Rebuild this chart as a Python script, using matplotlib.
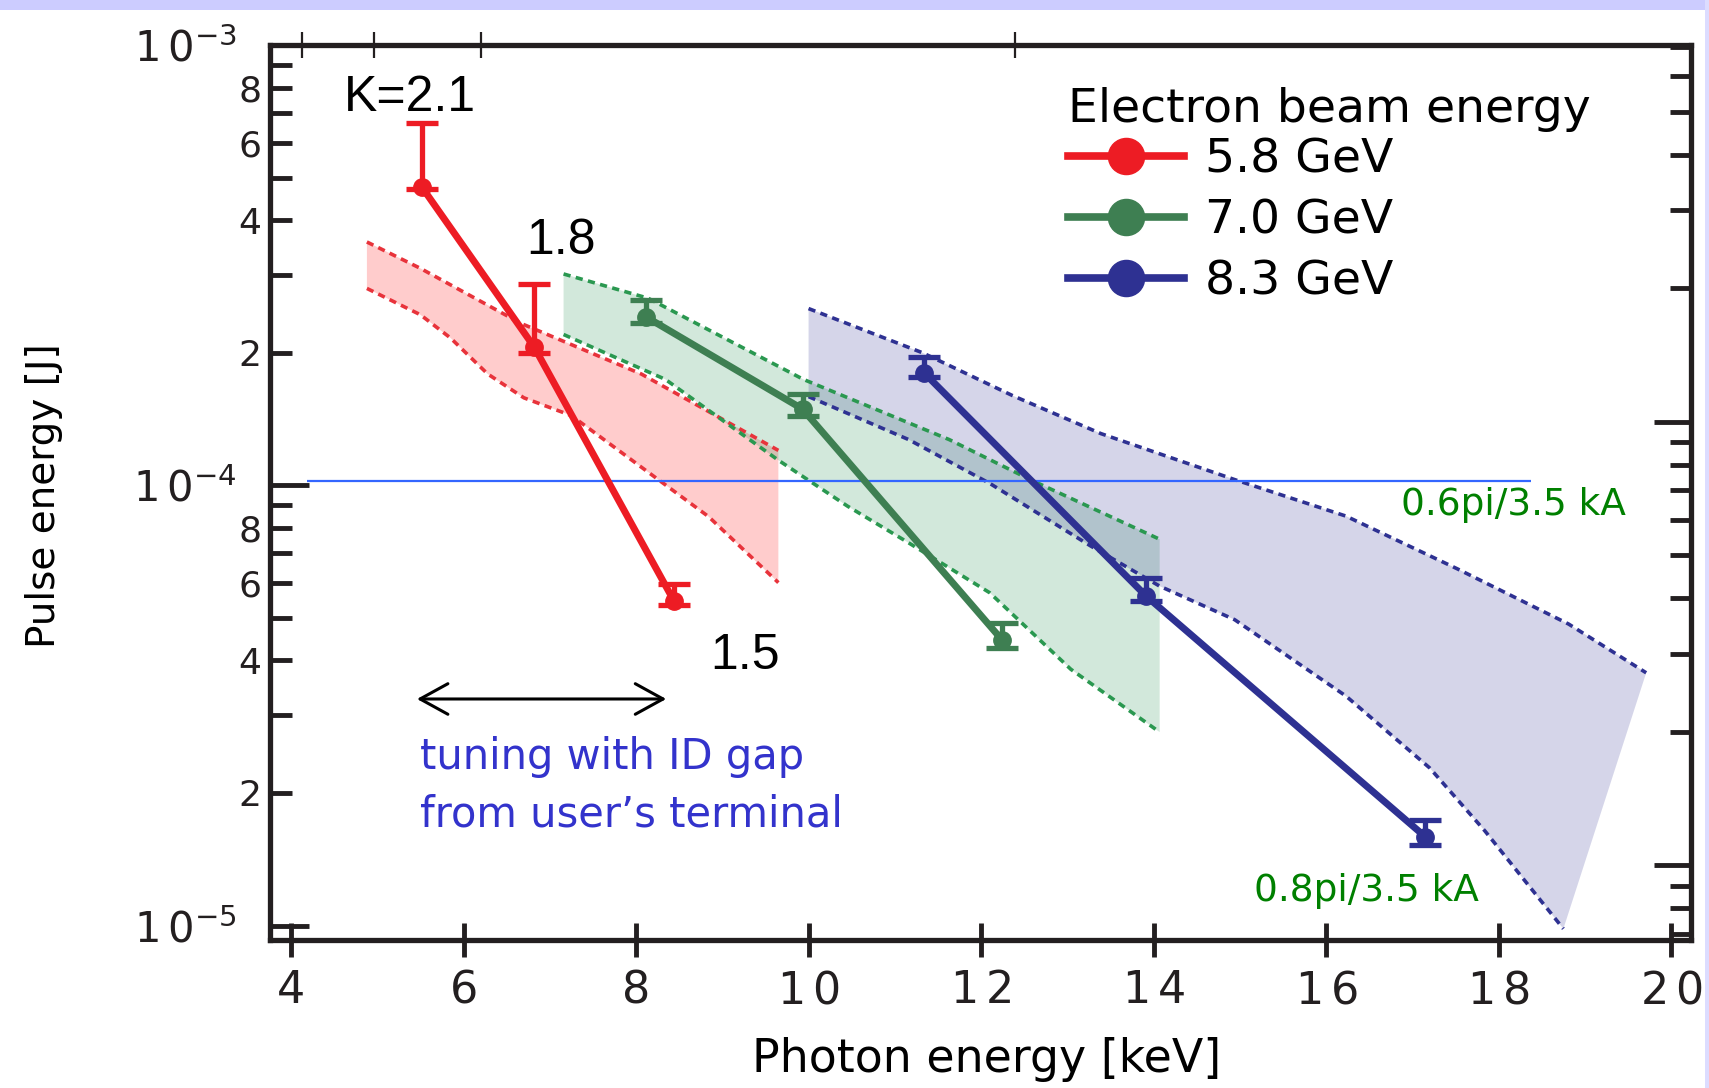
import matplotlib.pyplot as plt
import numpy as np
from matplotlib import ticker
from matplotlib.lines import Line2D
from matplotlib.patches import Rectangle

plt.rcParams['font.family'] = ['DejaVu Sans']
plt.rcParams['mathtext.default'] = 'regular'

# measured pulse energy [J] vs photon energy [keV], with error bar limits
e58_x = [5.52, 6.82, 8.44]
e58_y = [4.75e-4, 2.06e-4, 5.46e-5]
e58_lo = [4.70e-4, 2.00e-4, 5.34e-5]
e58_hi = [6.65e-4, 2.86e-4, 5.97e-5]

e70_x = [8.12, 9.93, 12.24]
e70_y = [2.41e-4, 1.49e-4, 4.46e-5]
e70_lo = [2.34e-4, 1.44e-4, 4.28e-5]
e70_hi = [2.63e-4, 1.61e-4, 4.86e-5]

e83_x = [11.34, 13.91, 17.15]
e83_y = [1.80e-4, 5.61e-5, 1.59e-5]
e83_lo = [1.76e-4, 5.46e-5, 1.52e-5]
e83_hi = [1.96e-4, 6.17e-5, 1.74e-5]

# simulated ranges (upper / lower edges of the shaded bands)
b58_up_x = [4.88, 5.50, 6.67, 8.06, 9.65]
b58_up_y = [3.57e-4, 3.11e-4, 2.33e-4, 1.79e-4, 1.20e-4]
b58_lo_x = [4.88, 5.50, 5.85, 6.28, 6.70, 7.25, 8.06, 8.84, 9.65]
b58_lo_y = [2.80e-4, 2.44e-4, 2.16e-4, 1.79e-4, 1.58e-4, 1.44e-4, 1.10e-4, 8.49e-5, 6.01e-5]

b70_up_x = [7.16, 8.14, 9.94, 11.63, 12.57, 14.07]
b70_up_y = [3.02e-4, 2.66e-4, 1.74e-4, 1.27e-4, 1.03e-4, 7.54e-5]
b70_lo_x = [7.16, 8.34, 9.65, 10.45, 11.16, 12.10, 13.04, 14.07]
b70_lo_y = [2.20e-4, 1.74e-4, 1.14e-4, 8.97e-5, 7.40e-5, 5.70e-5, 3.82e-5, 2.75e-5]

b83_up_x = [10.0, 11.32, 12.36, 13.39, 14.94, 16.23, 17.52, 18.81, 19.71]
b83_up_y = [2.52e-4, 2.00e-4, 1.60e-4, 1.31e-4, 1.03e-4, 8.51e-5, 6.46e-5, 4.84e-5, 3.75e-5]
b83_lo_x = [10.0, 11.16, 12.10, 13.27, 14.07, 14.94, 16.23, 17.20, 17.84, 18.75]
b83_lo_y = [1.59e-4, 1.27e-4, 1.01e-4, 7.28e-5, 5.90e-5, 4.95e-5, 3.32e-5, 2.28e-5, 1.64e-5, 9.83e-6]

ref_level = 1.02e-4
ref_span = [4.19, 18.38]

beam_labels = ['5.8 GeV', '7.0 GeV', '8.3 GeV']
line_colors = ['#ed1c24', '#3e7f52', '#2e3192']
band_fill = ['#ff0000', '#1f8f4f', '#2e3192']
band_edge = ['#e8333b', '#2a9850', '#2e3192']

x_ticks = [4, 6, 8, 10, 12, 14, 16, 18, 20]
wl_ticks = [300, 250, 200, 100]

fig = plt.figure(figsize=(17.09, 10.88), dpi=100)
ax = fig.add_axes([0.158, 0.136, 0.8315, 0.8226])
ax.set_yscale('log')
ax.set_xlim(3.757, 20.23)
ax.set_ylim(10 ** -5.033, 10 ** -3.016)

bands = [(b58_up_x, b58_up_y, b58_lo_x, b58_lo_y),
         (b70_up_x, b70_up_y, b70_lo_x, b70_lo_y),
         (b83_up_x, b83_up_y, b83_lo_x, b83_lo_y)]
for (ux, uy, lx, ly), fc, ec in zip(bands, band_fill, band_edge):
    ax.fill(np.r_[ux, lx[::-1]], np.r_[uy, ly[::-1]], color=fc, alpha=0.2, lw=0, zorder=1)
    ax.plot(ux, uy, color=ec, lw=2.6, ls=(0, (2.0, 1.5)), zorder=2)
    ax.plot(lx, ly, color=ec, lw=2.6, ls=(0, (2.0, 1.5)), zorder=2)

ax.hlines(ref_level, ref_span[0], ref_span[1], color='#3366ff', lw=1.6, zorder=3)

series = [(e58_x, e58_y, e58_lo, e58_hi),
          (e70_x, e70_y, e70_lo, e70_hi),
          (e83_x, e83_y, e83_lo, e83_hi)]
for (x, y, lo, hi), c in zip(series, line_colors):
    x, y, lo, hi = map(np.array, (x, y, lo, hi))
    ax.errorbar(x, y, yerr=[y - lo, hi - y], fmt='none', ecolor=c,
                elinewidth=3.8, capsize=11.5, capthick=3.8, zorder=5)
    ax.plot(x, y, '-o', color=c, lw=5, ms=12.5, zorder=6)

# legend with big round markers, title drawn separately
ax.text(0.5615, 0.9285, 'Electron beam energy', transform=ax.transAxes,
        fontsize=34, ha='left', va='center')
handles = [Line2D([], [], color=c, lw=5.5, marker='o', ms=26) for c in line_colors]
ax.legend(handles, beam_labels, loc='upper left', bbox_to_anchor=(0.5615, 0.8965),
          frameon=False, fontsize=34, borderpad=0, borderaxespad=0,
          handlelength=2.45, handletextpad=0.45, labelspacing=0.34)

# undulator K values
kfont = dict(family='Liberation Sans', fontsize=36, color='black', va='center', ha='left')
ax.text(4.61, 7.6e-4, 'K=2.1', **kfont)
ax.text(6.73, 3.58e-4, '1.8', **kfont)
ax.text(8.86, 4.10e-5, '1.5', **kfont)

ax.text(16.87, 9.0e-5, '0.6pi/3.5 kA', color='#008000', fontsize=27, va='center')
ax.text(15.16, 1.20e-5, '0.8pi/3.5 kA', color='#008000', fontsize=27, va='center')

ax.annotate('', xy=(8.35, 3.27e-5), xytext=(5.46, 3.27e-5),
            arrowprops=dict(arrowstyle='<->,head_length=0.4,head_width=0.22',
                            lw=2.2, color='black', mutation_scale=50,
                            shrinkA=0, shrinkB=0))
ax.text(5.49, 2.42e-5, 'tuning with ID gap', color='#3333cc', fontsize=30, va='center')
ax.text(5.49, 1.79e-5, 'from user\u2019s terminal', color='#3333cc', fontsize=30, va='center')

# axes styling
for s in ax.spines.values():
    s.set_linewidth(3.8)
    s.set_color('#231f20')

ax.set_xticks(x_ticks)
ax.set_xticklabels([str(v) if v < 10 else r'$%s\,%s$' % (str(v)[0], str(v)[1]) for v in x_ticks])
ax.tick_params(axis='x', which='major', direction='inout', length=24, width=3.5,
               labelsize=32, pad=9, colors='#231f20', top=False)
ax.tick_params(axis='x', which='minor', bottom=False, top=False)

ax.set_yticks([1e-5, 1e-4, 1e-3])
ax.set_yticklabels([r'$1\,0^{-5}$', r'$1\,0^{-4}$', r'$1\,0^{-3}$'])
ax.yaxis.set_minor_locator(ticker.LogLocator(base=10, subs=np.arange(2, 10), numticks=30))


def minor_label(v, pos):
    m = int(round(v / 10 ** np.floor(np.log10(v) + 1e-9)))
    return str(m) if m in (2, 4, 6, 8) else ''


ax.yaxis.set_minor_formatter(ticker.FuncFormatter(minor_label))
ax.tick_params(axis='y', which='major', direction='in', length=28, width=3.5,
               labelsize=30, pad=24, colors='#231f20', right=False)
ax.tick_params(axis='y', which='minor', direction='in', length=16, width=3.5,
               labelsize=26, pad=6, colors='#231f20', right=False)

ax.set_xlabel('Photon energy [keV]', fontsize=33, va='center')
ax.xaxis.set_label_coords(0.5045, -0.1335)
ax.set_ylabel('Pulse energy [J]', fontsize=28, va='center')
ax.yaxis.set_label_coords(-0.159, 0.496)

# wavelength scale on top [pm], labels fall outside the figure
top = ax.secondary_xaxis('top', functions=(lambda e: 1239.84 / e, lambda w: 1239.84 / w))
top.set_xticks(wl_ticks)
top.set_xticklabels([])
top.tick_params(direction='inout', length=19, width=1.6, colors='#231f20')
top.spines['top'].set_visible(False)

# second intensity scale on the right
rax = ax.twinx()
rax.set_yscale('log')
shift = 10 ** -0.135
rax.set_ylim(10 ** -5.033 * shift, 10 ** -3.016 * shift)
rax.set_yticks([1e-5, 1e-4])
rax.yaxis.set_minor_locator(ticker.LogLocator(base=10, subs=np.arange(2, 10), numticks=30))
rax.yaxis.set_major_formatter(ticker.NullFormatter())
rax.yaxis.set_minor_formatter(ticker.NullFormatter())
rax.tick_params(axis='y', which='major', direction='in', length=27, width=3.5, colors='#231f20')
rax.tick_params(axis='y', which='minor', direction='in', length=15, width=3.5, colors='#231f20')
for s in rax.spines.values():
    s.set_visible(False)

# slide background strips
fig.add_artist(Rectangle((0, 1 - 10 / 1088), 1, 10 / 1088, transform=fig.transFigure,
                         color='#ccccff', lw=0, zorder=10))
fig.add_artist(Rectangle((1 - 4 / 1709, 0), 4 / 1709, 1, transform=fig.transFigure,
                         color='#dcdcff', lw=0, zorder=10))

fig.savefig('out.png', dpi=100)
